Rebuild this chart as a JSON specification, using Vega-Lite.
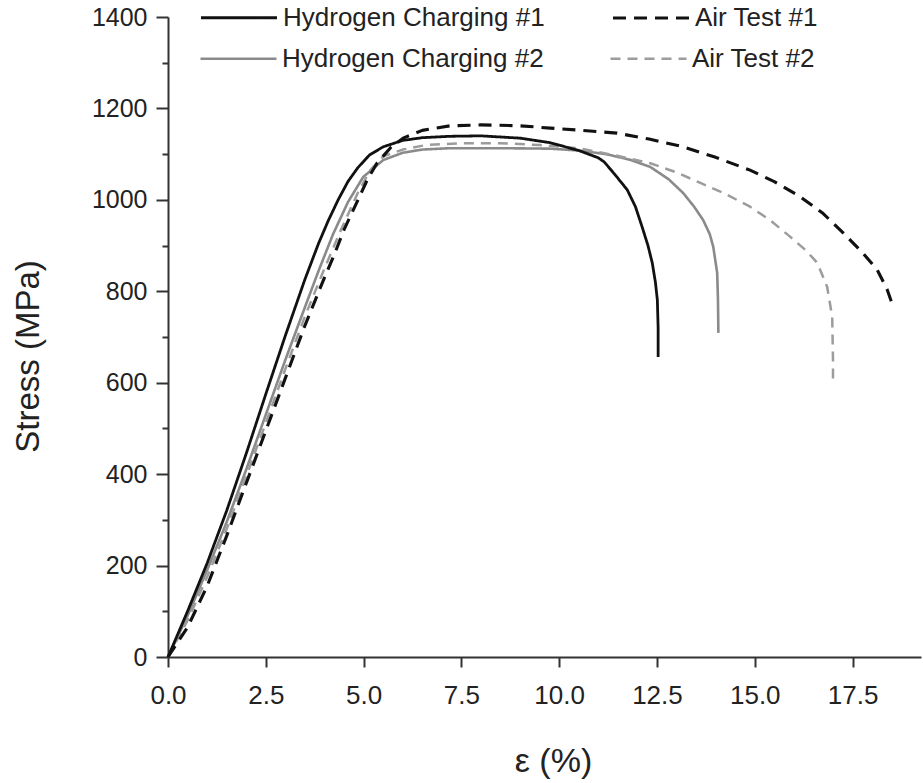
{
  "$schema": "https://vega.github.io/schema/vega-lite/v6.json",
  "width": 753,
  "height": 640,
  "autosize": {"type": "none"},
  "padding": {"left": 168, "top": 17, "right": 2, "bottom": 126},
  "background": "white",
  "config": {
    "view": {"stroke": null},
    "font": "Liberation Sans",
    "axis": {"grid": false},
    "legend": {
      "orient": "none", "direction": "horizontal", "columns": 2, "title": null, "padding": 0,
      "symbolType": "stroke", "symbolSize": 5776,
      "labelFontSize": 26, "labelFont": "Liberation Sans", "labelColor": "#222",
      "labelOffset": 4, "columnPadding": 61, "labelLimit": 0
    }
  },
  "datasets": {
    "curves": [
      {"series": "Hydrogen Charging #1", "i": 0, "strain": 0, "stress": 0},
      {"series": "Hydrogen Charging #1", "i": 1, "strain": 0.5, "stress": 100},
      {"series": "Hydrogen Charging #1", "i": 2, "strain": 1.0, "stress": 205},
      {"series": "Hydrogen Charging #1", "i": 3, "strain": 1.5, "stress": 320},
      {"series": "Hydrogen Charging #1", "i": 4, "strain": 2.0, "stress": 445},
      {"series": "Hydrogen Charging #1", "i": 5, "strain": 2.5, "stress": 575},
      {"series": "Hydrogen Charging #1", "i": 6, "strain": 3.0, "stress": 703},
      {"series": "Hydrogen Charging #1", "i": 7, "strain": 3.5, "stress": 826},
      {"series": "Hydrogen Charging #1", "i": 8, "strain": 3.85, "stress": 905},
      {"series": "Hydrogen Charging #1", "i": 9, "strain": 4.1, "stress": 955},
      {"series": "Hydrogen Charging #1", "i": 10, "strain": 4.35, "stress": 1000},
      {"series": "Hydrogen Charging #1", "i": 11, "strain": 4.6, "stress": 1040},
      {"series": "Hydrogen Charging #1", "i": 12, "strain": 4.85, "stress": 1070},
      {"series": "Hydrogen Charging #1", "i": 13, "strain": 5.15, "stress": 1098},
      {"series": "Hydrogen Charging #1", "i": 14, "strain": 5.5, "stress": 1116},
      {"series": "Hydrogen Charging #1", "i": 15, "strain": 6.0, "stress": 1130},
      {"series": "Hydrogen Charging #1", "i": 16, "strain": 6.5, "stress": 1136},
      {"series": "Hydrogen Charging #1", "i": 17, "strain": 7.2, "stress": 1139},
      {"series": "Hydrogen Charging #1", "i": 18, "strain": 8.0, "stress": 1140},
      {"series": "Hydrogen Charging #1", "i": 19, "strain": 9.0, "stress": 1135},
      {"series": "Hydrogen Charging #1", "i": 20, "strain": 9.77, "stress": 1125},
      {"series": "Hydrogen Charging #1", "i": 21, "strain": 10.5, "stress": 1108},
      {"series": "Hydrogen Charging #1", "i": 22, "strain": 11.0, "stress": 1092},
      {"series": "Hydrogen Charging #1", "i": 23, "strain": 11.15, "stress": 1083},
      {"series": "Hydrogen Charging #1", "i": 24, "strain": 11.4, "stress": 1058},
      {"series": "Hydrogen Charging #1", "i": 25, "strain": 11.74, "stress": 1022},
      {"series": "Hydrogen Charging #1", "i": 26, "strain": 11.95, "stress": 985},
      {"series": "Hydrogen Charging #1", "i": 27, "strain": 12.12, "stress": 941},
      {"series": "Hydrogen Charging #1", "i": 28, "strain": 12.27, "stress": 900},
      {"series": "Hydrogen Charging #1", "i": 29, "strain": 12.38, "stress": 862},
      {"series": "Hydrogen Charging #1", "i": 30, "strain": 12.46, "stress": 820},
      {"series": "Hydrogen Charging #1", "i": 31, "strain": 12.51, "stress": 781},
      {"series": "Hydrogen Charging #1", "i": 32, "strain": 12.53, "stress": 720},
      {"series": "Hydrogen Charging #1", "i": 33, "strain": 12.53, "stress": 656},

      {"series": "Hydrogen Charging #2", "i": 0, "strain": 0, "stress": 0},
      {"series": "Hydrogen Charging #2", "i": 1, "strain": 0.5, "stress": 90},
      {"series": "Hydrogen Charging #2", "i": 2, "strain": 1.0, "stress": 190},
      {"series": "Hydrogen Charging #2", "i": 3, "strain": 1.5, "stress": 295},
      {"series": "Hydrogen Charging #2", "i": 4, "strain": 2.0, "stress": 410},
      {"series": "Hydrogen Charging #2", "i": 5, "strain": 2.5, "stress": 530},
      {"series": "Hydrogen Charging #2", "i": 6, "strain": 3.0, "stress": 650},
      {"series": "Hydrogen Charging #2", "i": 7, "strain": 3.5, "stress": 765},
      {"series": "Hydrogen Charging #2", "i": 8, "strain": 3.85, "stress": 845},
      {"series": "Hydrogen Charging #2", "i": 9, "strain": 4.22, "stress": 925},
      {"series": "Hydrogen Charging #2", "i": 10, "strain": 4.6, "stress": 995},
      {"series": "Hydrogen Charging #2", "i": 11, "strain": 4.99, "stress": 1050},
      {"series": "Hydrogen Charging #2", "i": 12, "strain": 5.5, "stress": 1087},
      {"series": "Hydrogen Charging #2", "i": 13, "strain": 6.0, "stress": 1103},
      {"series": "Hydrogen Charging #2", "i": 14, "strain": 6.5, "stress": 1110},
      {"series": "Hydrogen Charging #2", "i": 15, "strain": 7.2, "stress": 1113},
      {"series": "Hydrogen Charging #2", "i": 16, "strain": 8.5, "stress": 1113},
      {"series": "Hydrogen Charging #2", "i": 17, "strain": 9.77, "stress": 1112},
      {"series": "Hydrogen Charging #2", "i": 18, "strain": 10.5, "stress": 1108},
      {"series": "Hydrogen Charging #2", "i": 19, "strain": 11.2, "stress": 1100},
      {"series": "Hydrogen Charging #2", "i": 20, "strain": 11.8, "stress": 1088},
      {"series": "Hydrogen Charging #2", "i": 21, "strain": 12.33, "stress": 1072},
      {"series": "Hydrogen Charging #2", "i": 22, "strain": 12.8, "stress": 1045},
      {"series": "Hydrogen Charging #2", "i": 23, "strain": 13.17, "stress": 1015},
      {"series": "Hydrogen Charging #2", "i": 24, "strain": 13.45, "stress": 985},
      {"series": "Hydrogen Charging #2", "i": 25, "strain": 13.68, "stress": 956},
      {"series": "Hydrogen Charging #2", "i": 26, "strain": 13.85, "stress": 925},
      {"series": "Hydrogen Charging #2", "i": 27, "strain": 13.94, "stress": 897},
      {"series": "Hydrogen Charging #2", "i": 28, "strain": 14.04, "stress": 840},
      {"series": "Hydrogen Charging #2", "i": 29, "strain": 14.06, "stress": 780},
      {"series": "Hydrogen Charging #2", "i": 30, "strain": 14.07, "stress": 709},

      {"series": "Air Test #1", "i": 0, "strain": 0, "stress": 0},
      {"series": "Air Test #1", "i": 1, "strain": 0.5, "stress": 65},
      {"series": "Air Test #1", "i": 2, "strain": 1.0, "stress": 155},
      {"series": "Air Test #1", "i": 3, "strain": 1.5, "stress": 265},
      {"series": "Air Test #1", "i": 4, "strain": 2.0, "stress": 380},
      {"series": "Air Test #1", "i": 5, "strain": 2.5, "stress": 495},
      {"series": "Air Test #1", "i": 6, "strain": 3.0, "stress": 610},
      {"series": "Air Test #1", "i": 7, "strain": 3.5, "stress": 725},
      {"series": "Air Test #1", "i": 8, "strain": 4.0, "stress": 830},
      {"series": "Air Test #1", "i": 9, "strain": 4.25, "stress": 880},
      {"series": "Air Test #1", "i": 10, "strain": 4.5, "stress": 935},
      {"series": "Air Test #1", "i": 11, "strain": 4.83, "stress": 995},
      {"series": "Air Test #1", "i": 12, "strain": 5.1, "stress": 1045},
      {"series": "Air Test #1", "i": 13, "strain": 5.35, "stress": 1081},
      {"series": "Air Test #1", "i": 14, "strain": 5.7, "stress": 1115},
      {"series": "Air Test #1", "i": 15, "strain": 6.01, "stress": 1135},
      {"series": "Air Test #1", "i": 16, "strain": 6.5, "stress": 1152},
      {"series": "Air Test #1", "i": 17, "strain": 7.21, "stress": 1162},
      {"series": "Air Test #1", "i": 18, "strain": 8.0, "stress": 1164},
      {"series": "Air Test #1", "i": 19, "strain": 9.0, "stress": 1162},
      {"series": "Air Test #1", "i": 20, "strain": 9.77, "stress": 1157},
      {"series": "Air Test #1", "i": 21, "strain": 10.6, "stress": 1152},
      {"series": "Air Test #1", "i": 22, "strain": 11.48, "stress": 1146},
      {"series": "Air Test #1", "i": 23, "strain": 12.3, "stress": 1133},
      {"series": "Air Test #1", "i": 24, "strain": 13.17, "stress": 1116},
      {"series": "Air Test #1", "i": 25, "strain": 14.0, "stress": 1093},
      {"series": "Air Test #1", "i": 26, "strain": 14.88, "stress": 1065},
      {"series": "Air Test #1", "i": 27, "strain": 15.5, "stress": 1040},
      {"series": "Air Test #1", "i": 28, "strain": 16.16, "stress": 1007},
      {"series": "Air Test #1", "i": 29, "strain": 16.75, "stress": 970},
      {"series": "Air Test #1", "i": 30, "strain": 17.26, "stress": 928},
      {"series": "Air Test #1", "i": 31, "strain": 17.75, "stress": 885},
      {"series": "Air Test #1", "i": 32, "strain": 18.13, "stress": 847},
      {"series": "Air Test #1", "i": 33, "strain": 18.38, "stress": 805},
      {"series": "Air Test #1", "i": 34, "strain": 18.54, "stress": 766},

      {"series": "Air Test #2", "i": 0, "strain": 0, "stress": 0},
      {"series": "Air Test #2", "i": 1, "strain": 0.5, "stress": 80},
      {"series": "Air Test #2", "i": 2, "strain": 1.0, "stress": 175},
      {"series": "Air Test #2", "i": 3, "strain": 1.5, "stress": 280},
      {"series": "Air Test #2", "i": 4, "strain": 2.0, "stress": 395},
      {"series": "Air Test #2", "i": 5, "strain": 2.5, "stress": 512},
      {"series": "Air Test #2", "i": 6, "strain": 3.0, "stress": 630},
      {"series": "Air Test #2", "i": 7, "strain": 3.5, "stress": 745},
      {"series": "Air Test #2", "i": 8, "strain": 4.0, "stress": 850},
      {"series": "Air Test #2", "i": 9, "strain": 4.4, "stress": 930},
      {"series": "Air Test #2", "i": 10, "strain": 4.85, "stress": 1015},
      {"series": "Air Test #2", "i": 11, "strain": 5.17, "stress": 1065},
      {"series": "Air Test #2", "i": 12, "strain": 5.5, "stress": 1095},
      {"series": "Air Test #2", "i": 13, "strain": 6.0, "stress": 1110},
      {"series": "Air Test #2", "i": 14, "strain": 6.6, "stress": 1120},
      {"series": "Air Test #2", "i": 15, "strain": 7.5, "stress": 1124},
      {"series": "Air Test #2", "i": 16, "strain": 8.5, "stress": 1124},
      {"series": "Air Test #2", "i": 17, "strain": 9.5, "stress": 1120},
      {"series": "Air Test #2", "i": 18, "strain": 10.5, "stress": 1113},
      {"series": "Air Test #2", "i": 19, "strain": 11.4, "stress": 1098},
      {"series": "Air Test #2", "i": 20, "strain": 12.33, "stress": 1080},
      {"series": "Air Test #2", "i": 21, "strain": 13.0, "stress": 1060},
      {"series": "Air Test #2", "i": 22, "strain": 13.61, "stress": 1037},
      {"series": "Air Test #2", "i": 23, "strain": 14.25, "stress": 1013},
      {"series": "Air Test #2", "i": 24, "strain": 14.88, "stress": 985},
      {"series": "Air Test #2", "i": 25, "strain": 15.4, "stress": 955},
      {"series": "Air Test #2", "i": 26, "strain": 15.91, "stress": 919},
      {"series": "Air Test #2", "i": 27, "strain": 16.3, "stress": 890},
      {"series": "Air Test #2", "i": 28, "strain": 16.6, "stress": 862},
      {"series": "Air Test #2", "i": 29, "strain": 16.85, "stress": 810},
      {"series": "Air Test #2", "i": 30, "strain": 16.98, "stress": 744},
      {"series": "Air Test #2", "i": 31, "strain": 17.0, "stress": 650},
      {"series": "Air Test #2", "i": 32, "strain": 17.0, "stress": 599}
    ]
  },
  "data": {"name": "curves"},
  "encoding": {
    "x": {
      "field": "strain", "type": "quantitative",
      "scale": {"domain": [0, 19.25], "nice": false, "zero": false},
      "axis": {
        "values": [0, 2.5, 5, 7.5, 10, 12.5, 15, 17.5],
        "format": ".1f",
        "tickSize": 10, "tickWidth": 2, "tickColor": "#333",
        "domainColor": "#333", "domainWidth": 2,
        "labelPadding": 15, "labelFontSize": 26, "labelColor": "#222",
        "labelFlush": false, "labelOverlap": false,
        "title": "ε (%)", "titleFontSize": 34, "titleFontWeight": "normal", "titleColor": "#222",
        "titleX": 385, "titleY": 104, "titleBaseline": "middle", "titleAlign": "center"
      }
    },
    "y": {
      "field": "stress", "type": "quantitative",
      "scale": {"domain": [0, 1400], "nice": false},
      "axis": {
        "values": [0, 100, 200, 300, 400, 500, 600, 700, 800, 900, 1000, 1100, 1200, 1300, 1400],
        "labelExpr": "datum.value % 200 === 0 ? datum.label : ''",
        "format": "d",
        "tickSize": {"condition": {"test": "datum.value % 200 !== 0", "value": 6}, "value": 12},
        "tickWidth": 2, "tickColor": "#333",
        "domainColor": "#333", "domainWidth": 2,
        "labelPadding": 9, "labelFontSize": 25, "labelColor": "#222", "labelOverlap": false,
        "title": "Stress (MPa)", "titleFontSize": 33, "titleFontWeight": "normal", "titleColor": "#222",
        "titleX": -140, "titleY": 339, "titleAngle": 270, "titleBaseline": "middle", "titleAlign": "center"
      }
    },
    "order": {"field": "i", "type": "quantitative"}
  },
  "layer": [
    {
      "transform": [{"filter": "datum.series === 'Hydrogen Charging #2' || datum.series === 'Air Test #2'"}],
      "mark": {"type": "line", "strokeCap": "butt", "strokeJoin": "round"},
      "encoding": {
        "color": {
          "field": "series", "type": "nominal",
          "scale": {"domain": ["Hydrogen Charging #2", "Air Test #2"], "range": ["#8a8a8a", "#9c9c9c"]},
          "legend": {"legendX": 31, "legendY": 2}
        },
        "strokeDash": {
          "field": "series", "type": "nominal",
          "scale": {"domain": ["Hydrogen Charging #2", "Air Test #2"], "range": [[1, 0], [10, 7]]},
          "legend": {"legendX": 31, "legendY": 2}
        },
        "strokeWidth": {
          "field": "series", "type": "nominal",
          "scale": {"domain": ["Hydrogen Charging #2", "Air Test #2"], "range": [2.6, 2.5]},
          "legend": {"legendX": 31, "legendY": 2}
        }
      }
    },
    {
      "transform": [{"filter": "datum.series === 'Hydrogen Charging #1' || datum.series === 'Air Test #1'"}],
      "mark": {"type": "line", "strokeCap": "butt", "strokeJoin": "round"},
      "encoding": {
        "color": {
          "field": "series", "type": "nominal",
          "scale": {"domain": ["Hydrogen Charging #1", "Air Test #1"], "range": ["#111111", "#111111"]},
          "legend": {"legendX": 31, "legendY": -39}
        },
        "strokeDash": {
          "field": "series", "type": "nominal",
          "scale": {"domain": ["Hydrogen Charging #1", "Air Test #1"], "range": [[1, 0], [13, 8]]},
          "legend": {"legendX": 31, "legendY": -39}
        },
        "strokeWidth": {
          "field": "series", "type": "nominal",
          "scale": {"domain": ["Hydrogen Charging #1", "Air Test #1"], "range": [2.8, 3.1]},
          "legend": {"legendX": 31, "legendY": -39}
        }
      }
    }
  ],
  "resolve": {
    "scale": {"color": "independent", "strokeDash": "independent", "strokeWidth": "independent"},
    "legend": {"color": "independent", "strokeDash": "independent", "strokeWidth": "independent"}
  }
}
